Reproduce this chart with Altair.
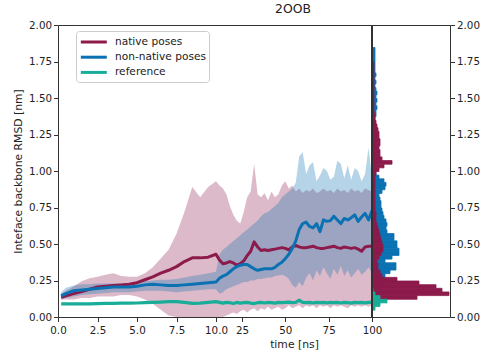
import altair as alt
import pandas as pd

FONT = "DejaVu Sans"
NATIVE = "#8C1A4B"
NONNATIVE = "#0A72B3"
REFERENCE = "#18AD99"
SPINE = "#333333"
TEXT = "#222222"

# ---- time series (ns) : 0.5 ns steps up to 10 ns, then 2 ns steps ----
time_ns = [0.2, 0.5, 1.0, 1.5, 2.0, 2.5, 3.0, 3.5, 4.0, 4.5, 5.0,
           5.5, 6.0, 6.5, 7.0, 7.5, 8.0, 8.5, 9.0, 9.5, 10.0] + list(range(12, 101, 2))

native_mean = [0.135, 0.145, 0.16, 0.175, 0.19, 0.205, 0.21, 0.215, 0.22, 0.225, 0.235,
               0.255, 0.275, 0.30, 0.32, 0.345, 0.38, 0.405, 0.405, 0.41, 0.43,
               0.39, 0.365, 0.37, 0.38, 0.37, 0.355, 0.365, 0.385, 0.42, 0.45,
               0.515, 0.48, 0.455, 0.46, 0.455, 0.46, 0.465, 0.47, 0.475, 0.47,
               0.46, 0.48, 0.49, 0.48, 0.475, 0.475, 0.48, 0.485, 0.475, 0.47,
               0.47, 0.475, 0.48, 0.485, 0.475, 0.47, 0.48, 0.475, 0.47, 0.475,
               0.465, 0.45, 0.48, 0.485, 0.485]
native_hi = [0.16, 0.18, 0.21, 0.245, 0.265, 0.275, 0.29, 0.30, 0.28, 0.275, 0.275,
             0.30, 0.34, 0.40, 0.46, 0.57, 0.72, 0.89, 0.82, 0.89, 0.93,
             0.90, 0.88, 0.84, 0.76, 0.70, 0.66, 0.64, 0.72, 0.82, 0.86,
             1.05, 0.84, 0.82, 0.85, 0.80, 0.86, 0.82, 0.84, 0.90, 0.93,
             0.88, 0.90, 0.86, 0.88, 0.85, 0.87, 0.86, 0.88, 0.85, 0.86,
             0.88, 0.86, 0.87, 0.85, 0.88, 0.86, 0.87, 0.85, 0.88, 0.86,
             0.87, 0.85, 0.88, 0.87, 0.86]
native_lo = [0.12, 0.12, 0.12, 0.13, 0.13, 0.14, 0.14, 0.14, 0.15, 0.15, 0.14,
             0.12, 0.09, 0.05, 0.01, 0.0, 0.0, 0.0, 0.0, 0.0, 0.0,
             0.0, 0.0, 0.01, 0.02, 0.03, 0.02, 0.04, 0.05, 0.03, 0.05,
             0.06, 0.04, 0.06, 0.05, 0.07, 0.05, 0.06, 0.07, 0.05, 0.06,
             0.08, 0.06, 0.07, 0.08, 0.06, 0.08, 0.07, 0.08, 0.06, 0.08,
             0.07, 0.08, 0.06, 0.08, 0.07, 0.08, 0.07, 0.06, 0.08, 0.07,
             0.08, 0.07, 0.08, 0.07, 0.08]

nonnative_mean = [0.145, 0.16, 0.18, 0.185, 0.19, 0.195, 0.20, 0.205, 0.205, 0.205, 0.21,
                  0.22, 0.225, 0.22, 0.215, 0.215, 0.22, 0.225, 0.23, 0.235, 0.24,
                  0.265, 0.28, 0.29, 0.31, 0.33, 0.345, 0.355, 0.36, 0.36, 0.345,
                  0.33, 0.32, 0.325, 0.33, 0.33, 0.33, 0.34, 0.36, 0.375, 0.40,
                  0.43, 0.47, 0.52, 0.60, 0.64, 0.65, 0.62, 0.61, 0.64, 0.585,
                  0.665, 0.655, 0.66, 0.69, 0.665, 0.64, 0.675, 0.665, 0.68, 0.70,
                  0.655, 0.685, 0.71, 0.665, 0.73]
nonnative_hi = [0.17, 0.20, 0.215, 0.225, 0.225, 0.23, 0.23, 0.23, 0.23, 0.23, 0.235,
                0.245, 0.25, 0.255, 0.255, 0.26, 0.27, 0.28, 0.29, 0.30, 0.31,
                0.43, 0.46, 0.48, 0.50, 0.52, 0.54, 0.56, 0.58, 0.60, 0.62,
                0.64, 0.66, 0.69, 0.71, 0.72, 0.74, 0.76, 0.78, 0.82, 0.84,
                0.86, 0.88, 0.92, 1.10, 1.13, 0.98, 1.04, 1.06, 0.93, 0.97,
                1.02, 1.00, 0.94, 0.96, 1.07, 1.05, 0.95, 1.04, 0.94, 1.02,
                1.00, 0.93, 0.98, 1.16, 0.96]
nonnative_lo = [0.12, 0.13, 0.14, 0.15, 0.155, 0.16, 0.165, 0.17, 0.17, 0.17, 0.175,
                0.18, 0.18, 0.18, 0.175, 0.17, 0.175, 0.18, 0.185, 0.19, 0.19,
                0.16, 0.17, 0.19, 0.20, 0.21, 0.22, 0.23, 0.24, 0.24, 0.25,
                0.25, 0.26, 0.26, 0.265, 0.27, 0.27, 0.28, 0.285, 0.29, 0.28,
                0.26, 0.22, 0.20, 0.24, 0.21, 0.27, 0.30, 0.25, 0.32, 0.28,
                0.34, 0.30, 0.26, 0.33, 0.29, 0.35, 0.28, 0.32, 0.27, 0.30,
                0.33, 0.29, 0.31, 0.34, 0.30]

reference_mean = [0.09, 0.09, 0.09, 0.09, 0.09, 0.092, 0.093, 0.094, 0.095, 0.095, 0.096,
                  0.098, 0.10, 0.102, 0.105, 0.105, 0.10, 0.093, 0.095, 0.10, 0.105,
                  0.10, 0.095, 0.10, 0.098, 0.092, 0.10, 0.095, 0.098, 0.10, 0.095,
                  0.092, 0.098, 0.10, 0.096, 0.10, 0.098, 0.095, 0.10, 0.098, 0.10,
                  0.102, 0.098, 0.10, 0.115, 0.10, 0.098, 0.10, 0.096, 0.10, 0.098,
                  0.10, 0.097, 0.10, 0.098, 0.10, 0.096, 0.10, 0.098, 0.095, 0.10,
                  0.098, 0.10, 0.097, 0.10, 0.10]

SERIES = ["native poses", "non-native poses", "reference"]

# ---- RMSD distributions over the whole run (bins of 0.025 nm) ----
BIN = 0.025
hist_native = [0, 0, 0, 0, 8, 45, 77, 70, 64, 47,
               25, 10, 8, 6, 6, 5, 7, 9, 11, 11,
               10, 9, 8, 7, 6, 5, 4, 4, 4, 3,
               3, 3, 3, 3, 3, 3, 3, 3, 3, 4,
               7, 12, 20, 10, 8, 8, 7, 8, 8, 7,
               7, 6, 5, 4, 3, 3, 2, 2, 2, 2,
               2, 2, 2, 2, 2, 2, 2, 2, 2, 2,
               0, 0, 0, 0, 0, 0]
hist_nonnative = [0, 0, 0, 0, 0, 2, 5, 8, 10, 12,
                  12, 13, 18, 24, 24, 13, 20, 27, 27, 25,
                  25, 22, 22, 15, 14, 15, 14, 12, 11, 10,
                  9, 9, 8, 7, 10, 13, 14, 12, 7, 4,
                  3, 3, 3, 3, 3, 3, 3, 3, 3, 3,
                  3, 3, 3, 3, 3, 4, 4, 5, 4, 5,
                  4, 5, 4, 3, 4, 3, 4, 3, 3, 3,
                  3, 3, 3, 3, 0, 0]
hist_reference = [0, 0, 3, 8, 15, 8, 3, 1] + [0] * 68
bin_lo = [round(BIN * i, 3) for i in range(len(hist_native))]

bands = pd.DataFrame({
    "t": time_ns,
    "native_lo": native_lo, "native_hi": native_hi,
    "nn_lo": nonnative_lo, "nn_hi": nonnative_hi,
})
means = pd.concat([
    pd.DataFrame({"t": time_ns, "rmsd": values, "series": name})
    for name, values in zip(SERIES, [native_mean, nonnative_mean, reference_mean])
], ignore_index=True)
hist = pd.DataFrame({
    "lo": bin_lo,
    "hi": [round(b + BIN, 3) for b in bin_lo],
    "native": hist_native,
    "nonnative": hist_nonnative,
    "reference": hist_reference,
})

y_ticks = [0.0, 0.25, 0.5, 0.75, 1.0, 1.25, 1.5, 1.75, 2.0]
y_scale = alt.Scale(domain=[0, 2], nice=False, zero=False)

# broken time axis: 0-10 ns stretched, 10-100 ns compressed
x_time = alt.X(
    "t:Q",
    scale=alt.Scale(domain=[0, 10, 100], range=[0, 158, 314], nice=False, zero=False),
    axis=alt.Axis(
        values=[0, 2.5, 5, 7.5, 10, 25, 50, 75, 100],
        labelExpr="datum.value <= 10 ? format(datum.value, '.1f') : format(datum.value, 'd')",
        title="time [ns]", titleX=236, titleY=30.7, titleBaseline="alphabetic",
        labelFlush=False, labelOverlap=False,
        tickSize=4.5, labelPadding=3.5,
    ),
)
left_axis = alt.Axis(
    values=y_ticks, format=".2f", title="Inteface backbone RMSD [nm]",
    titleX=-37, titleY=146, titleBaseline="alphabetic", titleAngle=270,
    tickSize=4.5, labelPadding=2,
)


def y_main(field):
    return alt.Y(f"{field}:Q", scale=y_scale, axis=left_axis)


color_scale = alt.Scale(domain=SERIES, range=[NATIVE, NONNATIVE, REFERENCE])
legend = alt.Legend(
    title=None, orient="none", legendX=18, legendY=6,
    symbolType="M-2,0H2", symbolSize=169, symbolStrokeWidth=3,
    symbolOffset=6.8, labelOffset=13.2, rowPadding=1.2, padding=3,
    strokeColor="#cccccc", fillColor="white", cornerRadius=3,
    labelFont=FONT, labelFontSize=10.6, labelColor=TEXT,
)

band_base = alt.Chart(bands)
native_band = band_base.mark_area(opacity=0.3, color=NATIVE).encode(
    x=x_time, y=y_main("native_lo"), y2="native_hi:Q")
nonnative_band = band_base.mark_area(opacity=0.3, color=NONNATIVE).encode(
    x=x_time, y=y_main("nn_lo"), y2="nn_hi:Q")


def mean_line(name, width=3):
    return alt.Chart(means).transform_filter(
        alt.datum.series == name
    ).mark_line(strokeWidth=width, strokeJoin="round").encode(
        x=x_time, y=y_main("rmsd"),
        color=alt.Color("series:N", scale=color_scale, legend=legend),
    )


timeline = alt.layer(
    native_band, nonnative_band,
    mean_line("native poses"), mean_line("non-native poses"), mean_line("reference", 3.2),
)

# side histograms: pre-binned horizontal bars with no spacing between bins
x_hist_scale = alt.Scale(domain=[0, 78], range=[314, 392], nice=False, zero=True)
right_axis = alt.Axis(orient="right", values=y_ticks, format=".2f", title=None,
                      tickSize=4.5, labelPadding=2)
hbase = alt.Chart(hist)


def hist_bars(field, colour):
    return hbase.transform_filter(f"datum.{field} > 0").mark_bar(
        color=colour, binSpacing=0, stroke=colour, strokeWidth=0.8, opacity=1
    ).encode(
        x=alt.X(f"{field}:Q", scale=x_hist_scale, axis=None),
        y=alt.Y("lo:Q", bin="binned", scale=y_scale, axis=right_axis),
        y2="hi:Q",
    )


divider = hbase.mark_rule(color=SPINE, strokeWidth=1).encode(x=alt.datum(0))

histograms = alt.layer(
    hist_bars("nonnative", NONNATIVE),
    hist_bars("native", NATIVE),
    hist_bars("reference", REFERENCE),
    divider,
)

chart = alt.layer(timeline, histograms).resolve_scale(
    x="independent", y="independent"
).properties(
    width=392, height=292,
    padding={"left": 58, "top": 25, "right": 36, "bottom": 44},
    autosize=alt.AutoSizeParams(type="none"),
    title=alt.TitleParams("2OOB", font=FONT, fontSize=12.4, fontWeight="normal",
                          color=TEXT, anchor="middle", dx=39, offset=5),
).configure_view(
    stroke=SPINE, strokeWidth=1
).configure_axis(
    labelFont=FONT, titleFont=FONT, labelFontSize=10.3, titleFontSize=10.8,
    labelColor=TEXT, titleColor=TEXT, titleFontWeight="normal",
    tickColor=SPINE, domain=False, grid=False,
)

chart.save("out.html", embed_options={"renderer": "svg", "actions": False})
